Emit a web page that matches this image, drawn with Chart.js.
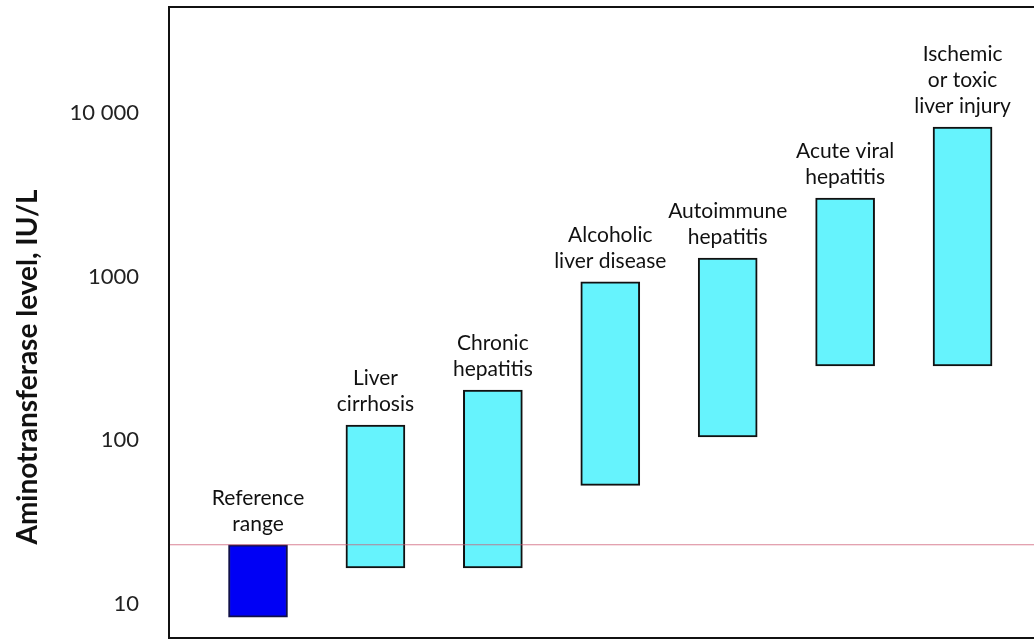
<!DOCTYPE html>
<html>
<head>
<meta charset="utf-8">
<script src="https://cdn.jsdelivr.net/npm/chart.js@4/dist/chart.umd.min.js"></script>
<style>
html,body{margin:0;padding:0;background:#fff;}
#wrap{width:1034px;height:641px;position:relative;}
</style>
</head>
<body>
<div id="wrap"><canvas id="c"></canvas></div>
<script>
// categories (each label split in lines) and the range of each bar, IU/L
var categories=[['Reference','range'],['Liver','cirrhosis'],['Chronic','hepatitis'],['Alcoholic','liver disease'],['Autoimmune','hepatitis'],['Acute viral','hepatitis'],['Ischemic','or toxic','liver injury']];
var lowValues=[8.3,16.6,16.6,53,105,285,285];
var highValues=[23,124,203,930,1300,3030,8220];
var tickValues=[10,100,1000,10000];
var tickLabels=['10','100','1000','10 000'];
var referenceUpper=23;
var axisTitle='Aminotransferase level, IU/L';

var bars=[];
for(var i=0;i<categories.length;i++){
    bars.push({x:i+1,y:[lowValues[i],highValues[i]]});
}

// frame: left, top and bottom lines only
var framePlugin={
    id:'frame',
    afterDraw:function(ch){
        var a=ch.chartArea,ctx=ch.ctx;
        ctx.save();
        ctx.strokeStyle='#111';ctx.lineWidth=2;
        ctx.beginPath();
        ctx.moveTo(ch.width,a.top);ctx.lineTo(a.left,a.top);
        ctx.lineTo(a.left,a.bottom);ctx.lineTo(ch.width,a.bottom);
        ctx.stroke();
        ctx.restore();
    }
};

// upper limit of the reference range
var refLinePlugin={
    id:'refLine',
    afterDatasetsDraw:function(ch){
        var y=ch.scales.y.getPixelForValue(referenceUpper),a=ch.chartArea,ctx=ch.ctx;
        ctx.save();
        ctx.strokeStyle='rgba(205,90,115,0.75)';ctx.lineWidth=1.2;
        ctx.beginPath();ctx.moveTo(a.left,y);ctx.lineTo(ch.width,y);ctx.stroke();
        ctx.restore();
    }
};

// labels above every bar
var barLabelPlugin={
    id:'barLabels',
    afterDatasetsDraw:function(ch){
        var ctx=ch.ctx,meta=ch.getDatasetMeta(0);
        ctx.save();
        ctx.font='21px Lato';ctx.fillStyle='#111';
        ctx.textAlign='center';ctx.textBaseline='middle';
        meta.data.forEach(function(el,i){
            var top=Math.min(el.y,el.base),lines=categories[i];
            for(var k=0;k<lines.length;k++){
                ctx.fillText(lines[k],el.x,top-21-(lines.length-1-k)*26);
            }
        });
        ctx.restore();
    }
};

// rotated y axis title
var yTitlePlugin={
    id:'yTitle',
    afterDraw:function(ch){
        var ctx=ch.ctx;
        ctx.save();
        ctx.translate(37,367);ctx.rotate(-Math.PI/2);
        ctx.font='bold 28px Lato';ctx.fillStyle='#111';
        ctx.textAlign='center';ctx.textBaseline='alphabetic';
        ctx.fillText(axisTitle,0,0);
        ctx.restore();
    }
};

new Chart(document.getElementById('c'),{
    type:'bar',
    data:{datasets:[{
        data:bars,
        backgroundColor:function(c){return c.dataIndex===0?'#0000f5':'#66f3fd';},
        borderColor:function(c){return c.dataIndex===0?'#10104a':'#111';},
        borderWidth:2,
        borderSkipped:false,
        barThickness:59
    }]},
    options:{
        responsive:true,maintainAspectRatio:false,animation:false,
        layout:{padding:{left:0,top:7,right:1,bottom:3}},
        plugins:{legend:{display:false},tooltip:{enabled:false}},
        scales:{
            x:{type:'linear',min:0.242,max:7.6,offset:false,display:false},
            y:{
                type:'logarithmic',min:6.19,max:44560,
                afterFit:function(s){s.width=169;s.paddingTop=0;s.paddingBottom=0;},
                afterBuildTicks:function(s){s.ticks=tickValues.map(function(v){return {value:v};});},
                grid:{display:false},
                border:{display:false},
                ticks:{
                    autoSkip:false,padding:22,color:'#222',
                    font:{family:'Lato',size:22},
                    callback:function(v){var k=tickValues.indexOf(v);return k<0?'':tickLabels[k];}
                }
            }
        }
    },
    plugins:[framePlugin,refLinePlugin,barLabelPlugin,yTitlePlugin]
});
</script>
</body>
</html>
